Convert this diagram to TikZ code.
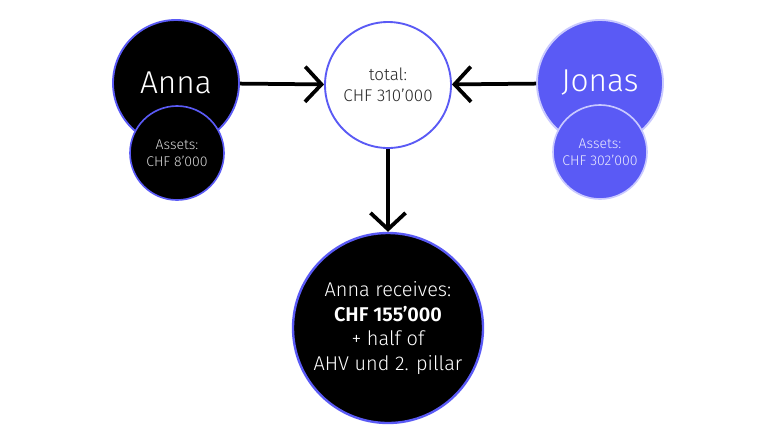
\documentclass[tikz,border=0pt]{standalone}
\usepackage{fontspec}
\setmainfont{Fira Sans Light}[BoldFont=Fira Sans SemiBold]
\usetikzlibrary{arrows.meta}
\definecolor{violet}{HTML}{5A5AF5}
\definecolor{lila}{HTML}{C9C9FF}
\tikzset{
  person/.style={circle,draw=violet,line width=1.6pt,minimum size=126*0.03cm,inner sep=0pt,align=center},
  asset/.style={circle,draw=violet,line width=1.4pt,minimum size=94*0.03cm,inner sep=0pt,align=center,font=\fontsize{12}{14.5}\selectfont},
  flow/.style={line width=3.2pt,-{Straight Barb[length=14pt,width=30pt,line width=3.2pt]}}
}
\begin{document}
\begin{tikzpicture}[x=0.03cm,y=-0.03cm]
\useasboundingbox[fill=white] (0,0) rectangle (768,436);
% persons
\node[person,fill=black,text=white,font=\fontsize{27}{30}\selectfont](anna) at(176,83){Anna};
\node[asset,fill=black,text=white!85!black](annaA) at(177,153){Assets:\\CHF 8'000};
\node[person,fill=violet,draw=lila,text=white,font=\fontsize{27}{30}\selectfont](jonas) at(600,83){Jonas};
\node[asset,fill=violet,draw=lila,text=white!88!violet](jonasA) at(600,152){Assets:\\CHF 302'000};
% total and result
\node[person,fill=white,text=black!85,font=\fontsize{14.5}{17.5}\selectfont](total) at(388,85){total:\\CHF 310'000};
\node[circle,draw=violet,line width=2pt,fill=black,text=white,minimum size=190*0.03cm,inner sep=0pt,align=center,font=\fontsize{17}{21}\selectfont](res) at(388,328){Anna receives:\\\textbf{CHF 155'000}\\+ half of\\AHV und 2. pillar};
\draw[flow](anna)--(total);
\draw[flow](jonas)--(total);
\draw[flow](total)--(res);
\end{tikzpicture}
\end{document}
